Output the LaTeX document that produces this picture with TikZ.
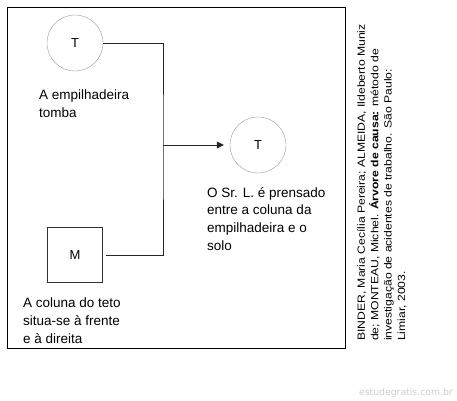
\documentclass[tikz,border=0pt]{standalone}
\usepackage{fontspec}
\setmainfont{Liberation Sans}
\newfontfamily\reffont[FakeStretch=1.17]{Liberation Sans}
\newfontfamily\markfont{DejaVu Sans}
\usepackage{xcolor}
\usepackage{tikz}
\usetikzlibrary{arrows.meta,positioning,calc}

\begin{document}
\begin{tikzpicture}[x=1pt,y=-1pt,
  event/.style={draw=gray!80, circle, minimum size=56pt, inner sep=0pt, font=\fontsize{13}{15}\selectfont},
  habit/.style={draw=black!80, rectangle, minimum size=55pt, inner sep=0pt, font=\fontsize{13}{15}\selectfont},
  caption/.style={anchor=base west, align=left, inner sep=0pt, font=\fontsize{13.5}{17.6}\selectfont},
  link/.style={draw=black!85, line width=0.8pt},
  ptr/.style={link, -{Triangle[length=7pt,width=7pt]}, shorten >=6pt}
]
\useasboundingbox (0,0) rectangle (457,400);
\draw[line width=0.8pt] (7,7) rectangle (345,348);
\node[event] (tomba) at (75,43) {T};
\node[caption] (ltomba) at (39,117.5) {A empilhadeira\\tomba};
\node[habit] (coluna) at (75,255) {M};
\node[caption] (lcoluna) at (23,343) {A coluna do teto\\situa-se à frente\\e à direita};
\node[event] (prensa) at (258,145) {T};
\node[caption] (lprensa) at (207,250) {O Sr. L. é prensado\\entre a coluna da\\empilhadeira e o\\solo};
\coordinate (jn) at (163,145);
\draw[link] (tomba.east) -| (jn) |- ([xshift=3pt]coluna.east);
\draw[ptr] (jn) -- (prensa.west);
% referencia
\node[rotate=90, anchor=north west, align=left, inner sep=0pt,
  font=\reffont\fontsize{10.4}{13.4}\selectfont] (ref) at (357,341)
  {BINDER, Maria Cecília Pereira; ALMEIDA, Ildeberto Muniz\\
   de; MONTEAU, Michel. \textbf{Árvore de causa:} método de\\
   investigação de acidentes de trabalho. São Paulo:\\
   Limiar, 2003.};
\node[anchor=east, inner sep=0pt, text=gray!40, font=\markfont\fontsize{9.3}{10}\selectfont] (mark) at (453,393) {estudegratis.com.br};
\end{tikzpicture}
\end{document}
